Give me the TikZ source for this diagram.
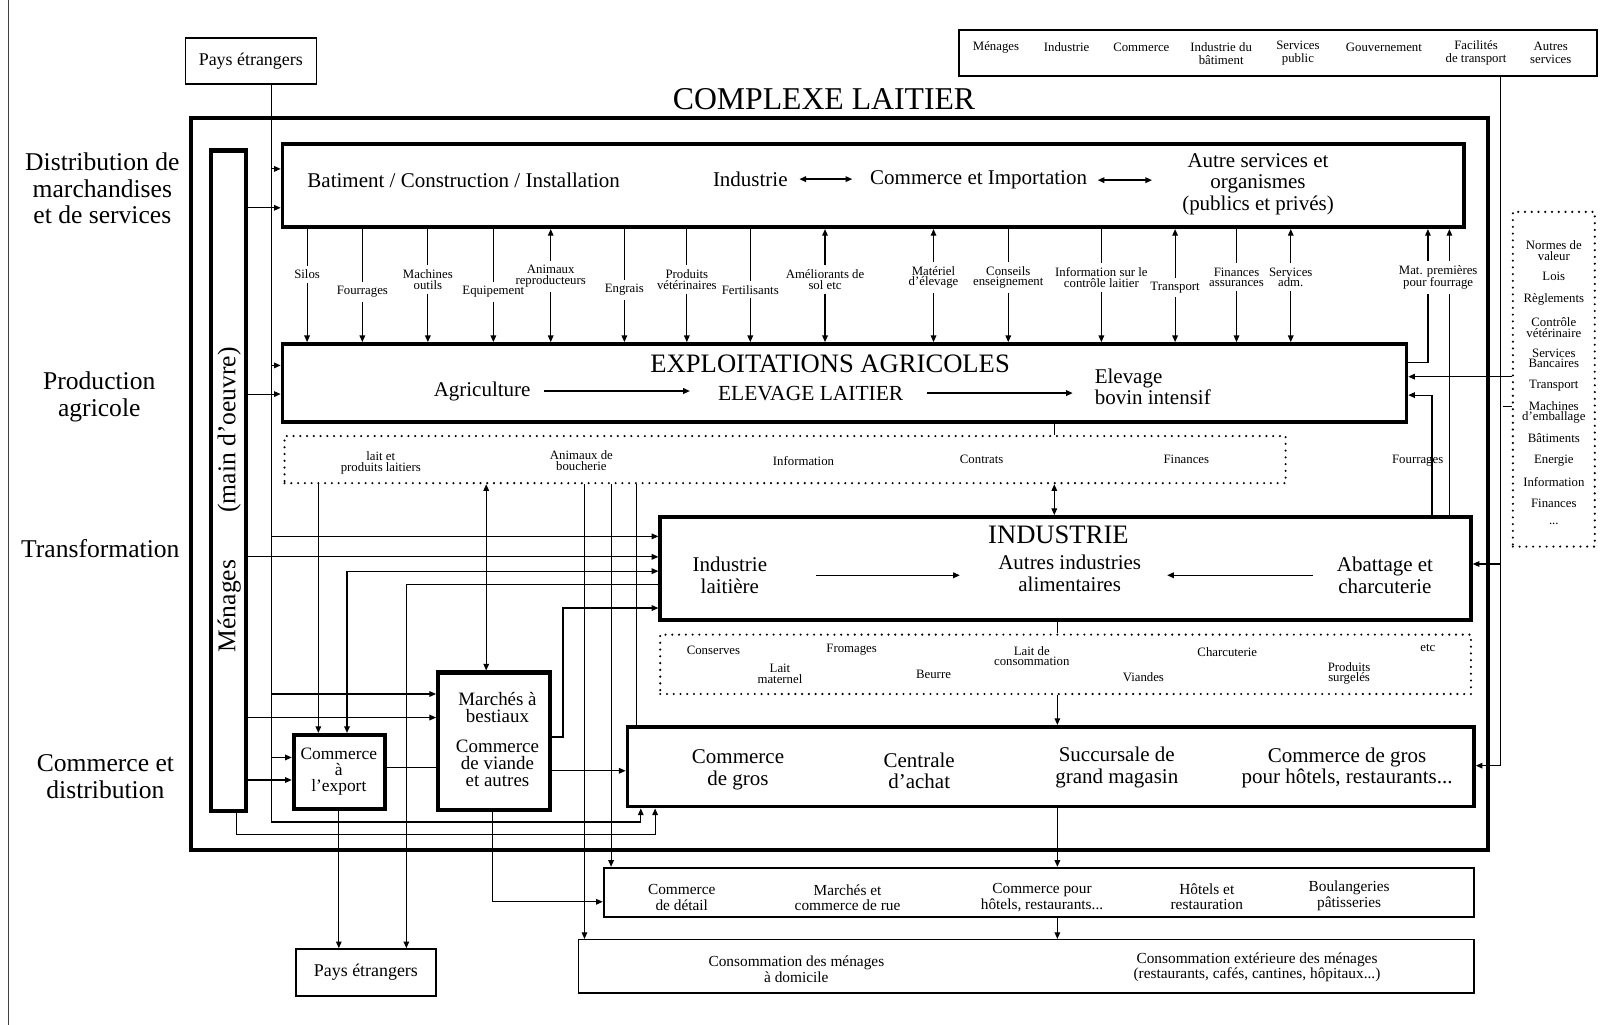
\documentclass[tikz,border=0pt]{standalone}
\usepackage{fontspec}
\setmainfont{Liberation Serif}
\usetikzlibrary{arrows.meta,fit,calc}
\newcommand\szLeft{\fontsize{25}{26}\selectfont}
\newcommand\szTitle{\fontsize{31}{32}\selectfont}
\newcommand\szHead{\fontsize{26}{27}\selectfont}
\newcommand\szBox{\fontsize{20.5}{21}\selectfont}
\newcommand\szMarket{\fontsize{18.5}{16.5}\selectfont}
\newcommand\szShop{\fontsize{15}{15.5}\selectfont}
\newcommand\szSmall{\fontsize{12.5}{10.5}\selectfont}
\newcommand\szPays{\fontsize{17.5}{18}\selectfont}
% flow column between the supply box and the farms
\newcommand\coldown[4]{%
  \node[lbl] (#1) at (#2,#3) {#4};
  \draw[wire] (distrib.south -| #1.north) -- (#1.north);
  \draw[wire,->] (#1.south) -- (expl.north -| #1.south);}
\newcommand\colboth[4]{%
  \node[lbl] (#1) at (#2,#3) {#4};
  \draw[wire,->] (#1.north) -- (distrib.south -| #1.north);
  \draw[wire,->] (#1.south) -- (expl.north -| #1.south);}
\begin{document}
\begin{tikzpicture}[x=1pt,y=-1pt,
  >={Triangle[length=6.5pt,width=5.5pt]},
  heavy/.style={draw,line width=3.6pt,inner sep=0pt},
  medium/.style={draw,line width=2.4pt,inner sep=0pt},
  light/.style={draw,line width=1.4pt,inner sep=0pt},
  dotframe/.style={draw,line width=2.3pt,dash pattern=on 0pt off 6.6pt,line cap=round,inner sep=0pt},
  wire/.style={line width=1.1pt},
  inarr/.style={line width=1.3pt},
  lbl/.style={font=\szSmall,align=center,inner sep=4pt},
  sml/.style={font=\szSmall,align=center,inner sep=1pt},
  boxtxt/.style={font=\szBox,align=center},
  shoptxt/.style={font=\szShop,align=center},
]
\useasboundingbox (0,0) rectangle (1568,1001);
\fill[white] (0,0) rectangle (1568,1001);
\draw[line width=0.8pt,black!75] (8,0) -- (8,1001);

% ---------- boxes ----------
\node[light,fit={(181,37)(309,82)}] (paysT) {};
\node[font=\szPays] (tPaysT) at (paysT.center) {Pays étrangers};
\node[light,line width=1.6pt,fit={(937,29)(1560,74)}] (sect) {};
\node[heavy,line width=4pt,fit={(187,115)(1454,830)}] (frame) {};
\node[font=\szTitle] (title) at (805,97) {COMPLEXE LAITIER};
\node[heavy,line width=4pt,fit={(206,147)(240,792)}] (menag) {};
\node[heavy,fit={(276,141)(1430,222)}] (distrib) {};
\node[heavy,fit={(276,336)(1374,412)}] (expl) {};
\node[dotframe,fit={(278,426)(1256,472)}] (flux) {};
\node[heavy,fit={(645,505)(1437,606)}] (indus) {};
\node[dotframe,fit={(645,620)(1437,678)}] (prod) {};
\node[heavy,fit={(613,710)(1440,788)}] (cgros) {};
\node[heavy,line width=4pt,fit={(287,718)(376,790)}] (export) {};
\node[heavy,line width=4pt,fit={(428,657)(537,791)}] (march) {};
\node[medium,fit={(590,848)(1440,896)}] (detail) {};
\node[light,fit={(565,918)(1440,970)}] (conso) {};
\node[light,fit={(289,927)(426,973)}] (paysB) {};
\node[font=\szPays] (tPaysB) at (paysB.center) {Pays étrangers};
\node[dotframe,fit={(1478,207)(1558,534)}] (norms) {};

% ---------- side headings ----------
\node[font=\szLeft,align=center] (hDist) at (100,184) {Distribution de\\marchandises\\et de services};
\node[font=\szLeft,align=center] (hProd) at (97,388) {Production\\agricole};
\node[font=\szLeft,align=center] (hTrans) at (98,536) {Transformation};
\node[font=\szLeft,align=center] (hComm) at (103,759) {Commerce et\\distribution};
\node[font=\szLeft,rotate=90] (tMen) at (224,592) {Ménages};
\node[font=\szLeft,rotate=90] (tMain) at (224,420) {(main d'oeuvre)};

% ---------- sectors (top right) ----------
\node[sml] (s1) at (973,46) {Ménages};
\node[sml] (s2) at (1042,46) {Industrie};
\node[sml] (s3) at (1115,46) {Commerce};
\node[sml,font=\fontsize{12.5}{12.5}\selectfont] (s4) at (1193,52) {Industrie du\\bâtiment};
\node[sml,font=\fontsize{12.5}{12.5}\selectfont] (s5) at (1268,52) {Services\\public};
\node[sml] (s6) at (1352,46) {Gouvernement};
\node[sml,font=\fontsize{12.5}{12.5}\selectfont] (s7) at (1442,52) {Facilités\\de transport};
\node[sml,font=\fontsize{12.5}{12.5}\selectfont] (s8) at (1515,52) {Autres\\services};

% ---------- supply box ----------
\node[boxtxt] (tBat) at (453,176) {Batiment / Construction / Installation};
\node[boxtxt] (tInd) at (733,175) {Industrie};
\node[boxtxt] (tCom) at (956,176) {Commerce et Importation};
\node[boxtxt] (tAut) at (1229,180) {Autre services et\\organismes\\(publics et privés)};
\draw[inarr,<->,shorten <=8pt,shorten >=14pt] (tInd.east) -- (tInd.east -| tCom.west);
\draw[inarr,<->,shorten <=7pt,shorten >=26pt] (tCom.east) -- (tCom.east -| tAut.west);

% ---------- farms ----------
\node[font=\szHead] (tExpl) at (811,355) {EXPLOITATIONS AGRICOLES};
\node[boxtxt] (tAgri) at (471,382) {Agriculture};
\node[boxtxt,font=\fontsize{21}{21}\selectfont] (tElev) at (792,384) {ELEVAGE LAITIER};
\node[boxtxt,align=left,anchor=west] (tBov) at (1066,378) {Elevage\\bovin intensif};
\draw[inarr,->,shorten <=10pt,shorten >=24pt] (tAgri.east) -- (tAgri.east -| tElev.west);
\draw[inarr,->,shorten <=20pt,shorten >=18pt] (tElev.east) -- (tElev.east -| tBov.west);

% ---------- flows supply <-> farms ----------
\coldown{lSilos}{300}{268}{Silos}
\coldown{lFour}{354}{285}{Fourrages}
\coldown{lMach}{418}{273}{Machines\\outils}
\coldown{lEqui}{482}{285}{Equipement}
\colboth{lAnim}{538}{270}{Animaux\\reproducteurs}
\coldown{lEngr}{610}{283}{Engrais}
\coldown{lVet}{671}{273}{Produits\\vétérinaires}
\coldown{lFert}{733}{283}{Fertilisants}
\colboth{lAmel}{806}{273}{Améliorants de\\sol  etc}
\colboth{lMat}{912}{271}{Matériel\\d'élevage}
\coldown{lCons}{985}{271}{Conseils\\enseignement}
\coldown{lInfo}{1076}{271}{Information sur le\\contrôle laitier}
\colboth{lTrans}{1148}{281}{Transport}
\coldown{lFin}{1208}{271}{Finances\\assurances}
\colboth{lAdm}{1261}{271}{Services\\adm.}
\node[lbl] (lMp) at (1405,271) {Mat. premières\\pour fourrage};
\coordinate (mp1) at (1395,354);
\coordinate (mp2) at (1416,0);
\coordinate (fo) at (1399,386);
\draw[wire] (mp1 -| expl.east) -- (mp1) -- (mp1 |- lMp.south);
\draw[wire,->] (mp1 |- lMp.north) -- (mp1 |- distrib.south);
\draw[wire] (mp2 |- indus.north) -- (mp2 |- lMp.south);
\draw[wire,->] (mp2 |- lMp.north) -- (mp2 |- distrib.south);
\draw[wire,->] (fo |- indus.north) -- (fo) -- (fo -| expl.east);
\node[sml] (lFo2) at (1385,450) {Fourrages};

% ---------- farm outputs ----------
\node[sml] (fl1) at (372,452) {lait et\\produits laitiers};
\node[sml] (fl2) at (568,450) {Animaux de\\boucherie};
\node[sml] (fl3) at (785,450) {Information};
\node[sml] (fl4) at (959,449) {Contrats};
\node[sml] (fl5) at (1159,449) {Finances};

% ---------- industry ----------
\node[font=\szHead] (tIndus) at (1034,522) {INDUSTRIE};
\node[boxtxt] (tLait) at (713,562) {Industrie\\laitière};
\node[boxtxt] (tAutres) at (1045,560) {Autres industries\\alimentaires};
\node[boxtxt] (tAbat) at (1353,562) {Abattage et\\charcuterie};
\draw[inarr,->,shorten <=44pt,shorten >=34pt] (tLait.east) -- (tLait.east -| tAutres.west);
\draw[inarr,->,shorten <=20pt,shorten >=22pt] (tAbat.west) -- (tAbat.west -| tAutres.east);

% ---------- products ----------
\node[sml] (p1) at (697,635) {Conserves};
\node[sml] (p2) at (762,658) {Lait\\maternel};
\node[sml] (p3) at (832,635) {Fromages};
\node[sml] (p4) at (912,659) {Beurre};
\node[sml] (p5) at (1008,641) {Lait de\\consommation};
\node[sml] (p6) at (1117,662) {Viandes};
\node[sml] (p7) at (1199,637) {Charcuterie};
\node[sml] (p8) at (1318,658) {Produits\\surgelés};
\node[sml] (p9) at (1395,633) {etc};

% ---------- trade ----------
\node[boxtxt] (g1) at (721,752) {Commerce\\de gros};
\node[boxtxt] (g2) at (898,753) {Centrale\\d'achat};
\node[boxtxt] (g3) at (1091,750) {Succursale de\\grand magasin};
\node[boxtxt] (g4) at (1316,750) {Commerce de gros\\pour hôtels, restaurants...};
\node[font=\szMarket,align=center,inner sep=0pt] (tMar1) at (486,691) {Marchés à\\bestiaux};
\node[font=\szMarket,align=center,inner sep=0pt] (tMar2) at (486,746) {Commerce\\de viande\\et autres};
\node[font=\fontsize{17}{15.5}\selectfont,align=center,inner sep=0pt] (tExp) at (331,754) {Commerce\\à\\l'export};
\node[shoptxt] (d1) at (666,877) {Commerce\\de détail};
\node[shoptxt] (d2) at (828,877) {Marchés et\\commerce de rue};
\node[shoptxt] (d3) at (1018,877) {Commerce pour\\hôtels, restaurants...};
\node[shoptxt] (d4) at (1179,876) {Hôtels et\\restauration};
\node[shoptxt] (d5) at (1318,875) {Boulangeries\\pâtisseries};
\node[shoptxt] (c1) at (778,947) {Consommation des ménages\\à domicile};
\node[shoptxt] (c2) at (1228,945) {Consommation extérieure des ménages\\(restaurants, cafés, cantines, hôpitaux...)};

% ---------- regulation list ----------
\node[sml] (n1) at (1518,245) {Normes de\\valeur};
\node[sml] (n2) at (1518,270) {Lois};
\node[sml] (n3) at (1518,293) {Règlements};
\node[sml] (n4) at (1518,320) {Contrôle\\vétérinaire};
\node[sml] (n5) at (1518,350) {Services\\Bancaires};
\node[sml] (n6) at (1518,377) {Transport};
\node[sml] (n7) at (1518,403) {Machines\\d'emballage};
\node[sml] (n8) at (1518,428) {Bâtiments};
\node[sml] (n9) at (1518,450) {Energie};
\node[sml] (n10) at (1518,471) {Information};
\node[sml] (n11) at (1518,492) {Finances};
\node[sml] (n12) at (1518,512) {...};

% ---------- foreign countries and households ----------
\coordinate (pv) at (265,0);
\coordinate (pe) at (626,803);
\draw[wire,->] (paysT.south -| pv) |- (pe) -- (pe |- cgros.south);
\foreach \yy/\tgt in {165/distrib,357/expl,524/indus,678/march,740/export}{
  \coordinate (tmp) at (0,\yy);
  \draw[wire,->] (pv |- tmp) -- (tmp -| \tgt.west);}
\foreach \yy/\tgt in {203/distrib,385/expl,544/indus,701/march,762/export}{
  \coordinate (tmp) at (0,\yy);
  \draw[wire,->] (menag.east |- tmp) -- (tmp -| \tgt.west);}
\coordinate (mbx) at (231,815);
\coordinate (mb) at (640,815);
\draw[wire,->] (menag.south -| mbx) -- (mbx) -- (mb) -- (mb |- cgros.south);

% ---------- flows from the farms ----------
\coordinate (f1) at (311,0);
\coordinate (f2) at (475,0);
\coordinate (f3) at (571,0);
\coordinate (f4) at (597,0);
\coordinate (f5) at (622,0);
\coordinate (f6) at (1030,0);
\draw[wire,->] (flux.south -| f1) -- (f1 |- export.north);
\draw[wire,<->] (flux.south -| f2) -- (f2 |- march.north);
\draw[wire,->] (flux.south -| f3) -- (f3 |- conso.north);
\draw[wire,->] (flux.south -| f4) -- (f4 |- detail.north);
\draw[wire] (flux.south -| f5) -- (f5 |- cgros.north);
\draw[wire] (expl.south -| f6) -- (f6 |- flux.north);
\draw[wire,<->] (flux.south -| f6) -- (f6 |- indus.north);

% ---------- industry links ----------
\coordinate (ie) at (339,558);
\draw[wire,<->] (export.north -| ie) -- (ie) -- (ie -| indus.west);
\coordinate (ip) at (397,571);
\draw[wire,->] (ip -| indus.west) -- (ip) -- (ip |- paysB.north);
\coordinate (ma1) at (550,720);
\coordinate (ma2) at (550,594);
\draw[wire,->] (march.east |- ma1) -- (ma1) -- (ma2) -- (ma2 -| indus.west);
\coordinate (c752) at (0,753);
\draw[wire,->] (march.east |- c752) -- (c752 -| cgros.west);
\coordinate (c750) at (0,750);
\draw[wire] (export.east |- c750) -- (c750 -| march.west);
\coordinate (x331) at (331,0);
\draw[wire,->] (export.south -| x331) -- (x331 |- paysB.north);
\coordinate (mk) at (481,881);
\draw[wire,->] (march.south -| mk) -- (mk) -- (mk -| detail.west);
\coordinate (cx) at (1033,0);
\draw[wire] (indus.south -| cx) -- (cx |- prod.north);
\draw[wire,->] (prod.south -| cx) -- (cx |- cgros.north);
\draw[wire,->] (cgros.south -| cx) -- (cx |- detail.north);
\draw[wire,->] (detail.south -| cx) -- (cx |- conso.north);

% ---------- right side ----------
\coordinate (rt) at (1466,748);
\draw[wire,->] (sect.south -| rt) -- (rt) -- (rt -| cgros.east);
\coordinate (ri) at (1466,551);
\draw[wire,->] (ri) -- (ri -| indus.east);
\coordinate (nr) at (0,368);
\draw[wire,->] (norms.west |- nr) -- (nr -| expl.east);
\coordinate (nt) at (1468,397);
\draw[wire] (nt) -- (nt -| norms.west);
\end{tikzpicture}
\end{document}
